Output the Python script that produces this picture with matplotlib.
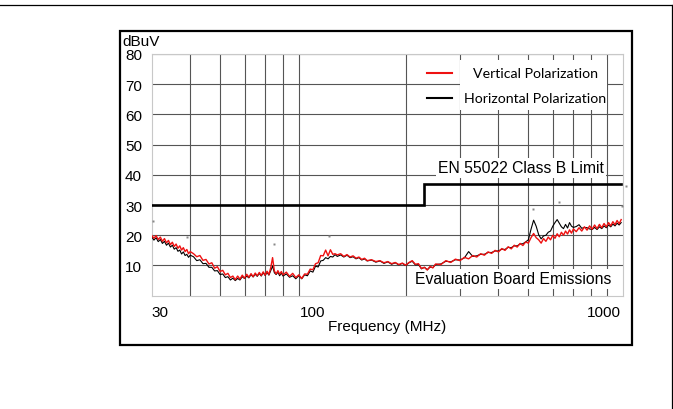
import matplotlib
matplotlib.use('Agg')
import matplotlib.pyplot as plt
from matplotlib.ticker import FixedLocator, NullFormatter
from matplotlib.patches import Rectangle
from matplotlib.lines import Line2D

# frequency samples (MHz)
freq = [30, 30.5, 31, 31.5, 32, 32.5, 33, 33.5, 34, 34.5, 35, 35.5, 36, 36.5, 37, 37.5, 38, 38.5, 39, 39.5, 40,
        41, 42, 43, 44, 45, 46, 47, 48, 49, 50, 51, 52, 53, 54, 55, 56, 57, 58, 59, 60,
        61, 62, 63, 64, 65, 66, 67, 68, 69, 70, 71, 72, 73, 74, 75, 76, 77, 78, 79, 80,
        82, 84, 86, 88, 90, 92, 94, 96, 98, 100, 102, 104, 106, 108, 110, 112, 114, 116, 118, 120,
        123, 126, 129, 132, 135, 138, 141, 144, 147, 150,
        155, 160, 165, 170, 175, 180, 185, 190, 195, 200, 205, 210, 215, 220, 225, 230, 235, 240, 245, 250,
        260, 270, 280, 290, 300, 310, 320, 330, 340, 350, 360, 370, 380, 390, 400, 410, 420, 430, 440, 450,
        460, 470, 480, 490, 500,
        510, 520, 530, 540, 550, 560, 570, 580, 590, 600, 610, 620, 630, 640, 650, 660, 670, 680, 690, 700,
        715, 730, 745, 760, 775, 790, 805, 820, 835, 850, 865, 880, 895, 910, 925, 940, 955, 970, 985, 1000]

vertical = [20.0, 19.0, 19.9, 18.6, 19.4, 18.0, 18.9, 17.5, 18.3, 16.9, 17.7, 16.3, 17.1, 15.7, 16.5, 15.1, 15.9, 14.6, 15.3, 13.9, 14.6,
            13.9, 12.9, 13.3, 11.7, 12.0, 10.5, 10.9, 9.1, 9.6, 8.0, 8.4, 6.9, 7.4, 6.0, 6.5, 5.3, 6.5, 5.5, 6.8, 5.8,
            7.1, 6.1, 7.3, 6.3, 7.5, 6.6, 7.7, 6.7, 7.9, 6.8, 8.1, 7.0, 9.3, 12.6, 8.2, 7.2, 8.3, 7.1, 8.0, 6.9,
            7.8, 6.4, 7.4, 6.0, 6.9, 5.7, 7.2, 7.1, 8.8, 8.6, 10.6, 10.9, 13.3, 13.2, 15.1, 13.2, 15.2, 13.7, 13.9, 13.5,
            13.9, 13.0, 13.6, 12.8, 13.2, 12.4, 12.8, 12.0, 12.4, 11.6,
            11.9, 11.3, 11.6, 10.9, 11.3, 10.6, 11.0, 10.3, 10.8, 10.1, 11.0, 11.6, 10.4, 10.6, 9.0, 9.4, 8.5, 9.7, 9.2, 10.5,
            10.3, 11.6, 11.0, 12.1, 11.6, 12.7, 12.2, 13.3, 12.8, 13.9, 13.4, 14.5, 14.0, 15.0, 14.5, 15.6, 15.0, 16.2, 15.5, 16.7,
            16.1, 17.3, 16.6, 17.8, 17.4,
            19.2, 20.6, 19.2, 18.5, 17.4, 18.9, 18.0, 19.4, 18.5, 20.0, 19.0, 20.5, 19.5, 21.0, 20.0, 21.4, 20.4, 21.8, 20.7, 22.1,
            21.2, 22.5, 21.4, 22.8, 21.7, 23.1, 22.0, 23.4, 22.2, 23.6, 22.5, 23.9, 22.8, 24.2, 23.1, 24.5, 23.5, 24.9, 23.8, 25.2]

horizontal = [19.5, 18.4, 19.2, 17.9, 18.6, 17.3, 18.0, 16.7, 17.4, 16.1, 16.7, 15.4, 15.9, 14.7, 15.1, 13.8, 14.5, 13.3, 13.7, 12.7, 13.4,
              12.9, 11.6, 11.9, 10.6, 10.7, 9.4, 9.4, 8.2, 8.3, 7.0, 7.2, 6.0, 6.3, 5.2, 5.8, 5.0, 5.7, 5.2, 6.3, 5.7,
              6.5, 5.9, 7.0, 6.2, 7.1, 6.4, 7.4, 6.5, 7.6, 6.7, 7.7, 6.8, 8.3, 9.8, 7.6, 7.0, 7.8, 6.6, 7.5, 6.5,
              7.2, 6.1, 6.6, 5.6, 6.6, 5.6, 6.9, 6.6, 8.2, 7.8, 9.8, 9.5, 11.5, 11.7, 12.6, 12.2, 13.0, 12.8, 13.6, 13.0,
              13.5, 12.8, 13.4, 12.6, 12.9, 12.2, 12.6, 11.8, 12.2, 11.5,
              11.8, 11.1, 11.5, 10.7, 11.2, 10.4, 10.9, 10.2, 10.7, 10.0, 10.9, 11.4, 10.2, 10.3, 8.9, 9.4, 8.6, 9.5, 9.3, 10.3,
              10.5, 11.4, 11.2, 11.9, 11.8, 12.5, 14.6, 13.0, 13.2, 13.7, 13.7, 14.3, 14.3, 14.8, 14.8, 15.4, 15.3, 16.0, 15.9, 16.5,
              16.5, 17.1, 17.2, 17.8, 18.5,
              22.0, 25.0, 23.0, 20.2, 18.8, 19.8, 20.0, 21.0, 21.4, 23.0, 24.2, 25.2, 24.0, 22.8, 22.2, 23.6, 22.4, 24.2, 23.0, 22.6,
              22.9, 23.5, 22.3, 22.6, 22.5, 22.1, 21.9, 22.6, 21.9, 22.8, 22.2, 23.1, 22.5, 23.4, 22.8, 23.7, 23.1, 24.0, 23.4, 24.2]

# EN 55022 class B limit
limit_freq = [30, 230, 230, 1000]
limit_level = [30, 30, 37, 37]

# stray points of the scan
dot_freq = [30.2, 39, 75, 113, 517, 630, 1006, 1033]
dot_level = [24.8, 19.3, 17.1, 19.9, 28.7, 31.1, 29.8, 36.3]

grid_freq = [30, 40, 50, 60, 70, 80, 90, 100, 200, 300, 400, 500, 600, 700, 800, 900, 1000]
label_freq = [30, 100, 1000]
level_ticks = [10, 20, 30, 40, 50, 60, 70, 80]

W, H = 673, 410
def fx(px):
    return px / W
def fy(py):
    return 1 - py / H

plt.rcParams['font.family'] = ['Liberation Sans', 'DejaVu Sans']

fig = plt.figure(figsize=(6.73, 4.10), dpi=100)
ax = fig.add_axes([fx(151.7), fy(296.7), fx(622.5) - fx(151.7), fy(55) - fy(296.7)])
ax.set_xscale('log')
ax.set_xlim(30, 1010)
ax.set_ylim(0, 80)

ax.xaxis.set_major_locator(FixedLocator(label_freq))
ax.xaxis.set_minor_locator(FixedLocator(grid_freq))
ax.xaxis.set_minor_formatter(NullFormatter())
ax.set_xticklabels([str(v) for v in label_freq])
ax.set_yticks(level_ticks)
ax.tick_params(which='both', length=0, labelsize=11)
ax.tick_params(axis='x', pad=7)
ax.tick_params(axis='y', pad=7)
xl = ax.get_xticklabels()
xl[0].set_ha('left')
xl[-1].set_ha('right')

ax.set_axisbelow(True)
ax.grid(which='minor', axis='x', color='#555555', lw=0.8)
ax.grid(which='major', axis='y', color='#555555', lw=0.8)
for s in ax.spines.values():
    s.set_color('#c8c8c8')
    s.set_linewidth(0.8)

ax.plot(limit_freq, limit_level, color='black', lw=1.9, zorder=3, solid_joinstyle='miter')
ax.plot(freq, horizontal, color='black', lw=0.8, zorder=3)
ax.plot(freq, vertical, color='#ee1111', lw=1.0, zorder=4)
ax.plot(dot_freq, dot_level, ls='none', marker='s', ms=1.5, color='#888888', mec='none', clip_on=False, zorder=4)

# annotations with white backing
ax.text(fx(521), fy(169), 'EN 55022 Class B Limit', transform=fig.transFigure, fontsize=11.3,
        ha='center', va='center', zorder=2, bbox=dict(fc='white', ec='none', pad=1.5))
ax.text(fx(513), fy(280), 'Evaluation Board Emissions', transform=fig.transFigure, fontsize=11.3,
        ha='center', va='center', zorder=2, bbox=dict(fc='white', ec='none', pad=1.5))

# legend
ax.add_patch(Rectangle((fx(460), fy(111)), fx(607) - fx(460), fy(61) - fy(111), transform=fig.transFigure,
                       fc='white', ec='none', zorder=1.5))
ax.add_line(Line2D([fx(426.7), fx(451.7)], [fy(74), fy(74)], transform=fig.transFigure, color='#ee1111', lw=1.5, zorder=3))
ax.add_line(Line2D([fx(426.7), fx(451.7)], [fy(99.3), fy(99.3)], transform=fig.transFigure, color='black', lw=1.5, zorder=3))
ax.text(fx(535.5), fy(74), 'Vertical Polarization', transform=fig.transFigure, fontsize=10.2, family=['Lato', 'DejaVu Sans'],
        ha='center', va='center', zorder=2)
ax.text(fx(535.5), fy(99.3), 'Horizontal Polarization', transform=fig.transFigure, fontsize=10.2, family=['Lato', 'DejaVu Sans'],
        ha='center', va='center', zorder=2)

fig.text(fx(122.7), fy(46), 'dBuV', fontsize=11, ha='left', va='baseline')
fig.text(fx(387), fy(327), 'Frequency (MHz)', fontsize=11, ha='center', va='center')

# chart frame and page borders
fig.add_artist(Rectangle((fx(119.5), fy(345.5)), fx(631.5) - fx(119.5), fy(31.5) - fy(345.5),
                         transform=fig.transFigure, fill=False, ec='black', lw=1.6))
fig.add_artist(Line2D([0, fx(672.3)], [fy(5.5), fy(5.5)], transform=fig.transFigure, color='black', lw=0.9))
fig.add_artist(Line2D([fx(672.3), fx(672.3)], [fy(5.5), 0], transform=fig.transFigure, color='black', lw=0.9))

fig.savefig('out.png', dpi=100)
